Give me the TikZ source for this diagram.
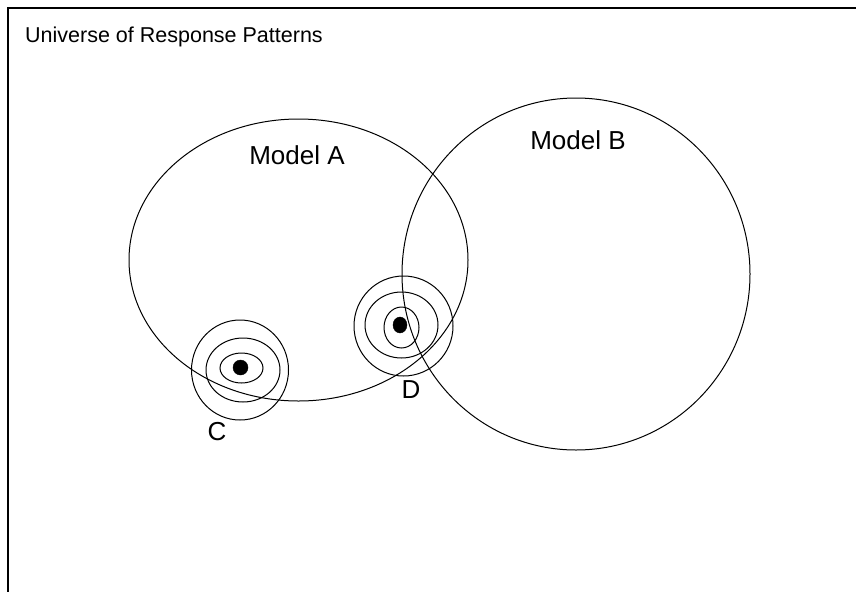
\documentclass[tikz,border=0pt]{standalone}
\usepackage{fontspec}
\setmainfont{Liberation Sans}

\tikzset{
    ring/.style={line width=1pt},
    label text/.style={font=\fontsize{26}{30}\selectfont, inner sep=0pt}
}

\begin{document}
\begin{tikzpicture}[x=1pt, y=-1pt]
    \useasboundingbox (0,0) rectangle (856,592);

    % Frame (top and left edges only)
    \draw[line width=1.6pt] (856,8) -- (8,8) -- (8,592);
    \node[font=\fontsize{21.5}{26}\selectfont, inner sep=0pt, anchor=base west] (title) at (25,42) {Universe of Response Patterns};

    % The two models
    \draw[ring] (298.5,260) ellipse (169.5 and 141);
    \draw[ring] (576,274) ellipse (174 and 176);
    \node[label text, anchor=base] (modelA) at (297,164) {Model A};
    \node[label text, anchor=base] (modelB) at (578,149) {Model B};

    % Pattern C
    \draw[ring] (240,370) ellipse (48.5 and 50);
    \draw[ring] (243,370) ellipse (37 and 32);
    \draw[ring] (241.5,368) ellipse (21.5 and 15);
    \filldraw[black] (240.5,367.5) circle (7.5);
    \node[label text, anchor=base] (C) at (217,440) {C};

    % Pattern D
    \draw[ring] (403.5,326) ellipse (49.5 and 50);
    \draw[ring] (401.5,325) ellipse (36.5 and 33);
    \draw[ring] (401.5,327.5) ellipse (17.5 and 20.5);
    \filldraw[black] (400,325) ellipse (7 and 8);
    \node[label text, anchor=base] (D) at (411,398) {D};
\end{tikzpicture}
\end{document}
